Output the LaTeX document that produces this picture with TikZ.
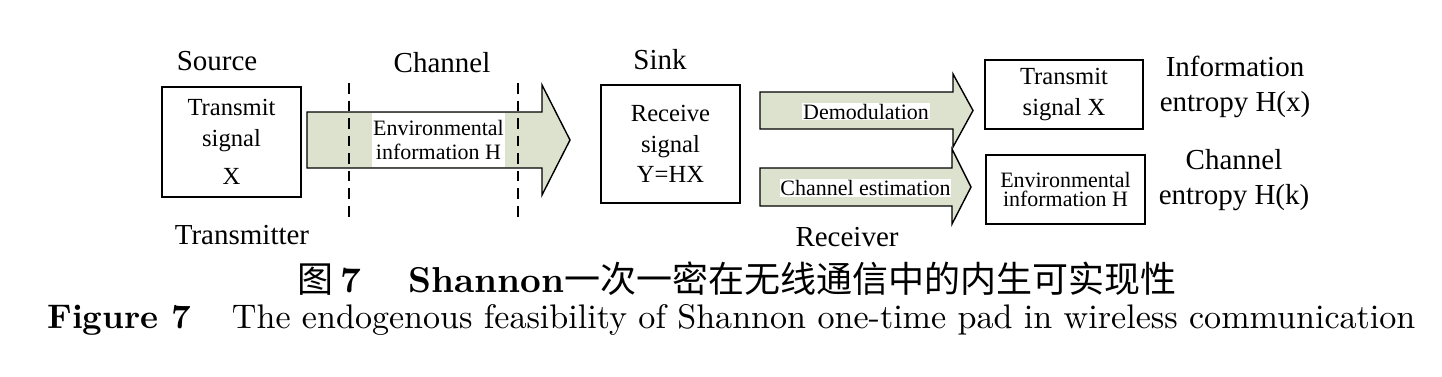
\documentclass[tikz,border=0pt]{standalone}
\usepackage{fontspec}
\newfontfamily\tnr{Liberation Serif}
\newfontfamily\cjk{Noto Sans CJK SC}
\newfontfamily\capfont{lmroman10-regular.otf}[BoldFont=lmroman10-bold.otf]
\definecolor{arrowfill}{RGB}{221,226,207}
\newcommand{\pxl}{0.02cm}
\tikzset{
	box/.style={draw, line width=0.8pt, align=center, inner sep=0pt},
	blockarrow/.style={draw, line width=0.8pt, fill=arrowfill, line join=miter},
	arrowtag/.style={fill=white, inner sep=0.5pt, align=center, font=\tnr\fontsize{12.5}{14}\selectfont},
	heading/.style={align=center, font=\tnr\fontsize{16.5}{20}\selectfont},
	boxtext/.style={font=\tnr\fontsize{14}{17.5}\selectfont},
	divider/.style={line width=0.6pt, dash pattern=on 6pt off 4pt},
}
\begin{document}
\begin{tikzpicture}[x=\pxl, y=-\pxl]
	\useasboundingbox (0,0) rectangle (1442,376);

	\node[box, boxtext, minimum width=139*\pxl, minimum height=110*\pxl] (srcbox) at (231.5,142) {Transmit\\signal\\[4pt]X};
	\node[box, boxtext, minimum width=139*\pxl, minimum height=118*\pxl] (sinkbox) at (670.5,144) {Receive\\signal\\Y=HX};
	\node[box, boxtext, minimum width=158*\pxl, minimum height=69*\pxl] (xbox) at (1064,94.5) {Transmit\\signal X};
	\node[box, font=\tnr\fontsize{12.5}{11}\selectfont, minimum width=159*\pxl, minimum height=69*\pxl] (hbox) at (1065.5,189.5) {Environmental\\information H};

	\draw[blockarrow] (307,112) -- (542,112) -- (542,85) -- (570,140) -- (542,195) -- (542,168) -- (307,168) -- cycle;
	\draw[blockarrow] (760,92) -- (953,92) -- (953,74) -- (973,110.5) -- (953,147) -- (953,129) -- (760,129) -- cycle;
	\draw[blockarrow] (760,168) -- (952,168) -- (952,149) -- (971,187) -- (952,224) -- (952,206) -- (760,206) -- cycle;

	\node[arrowtag, minimum width=131*\pxl, minimum height=54*\pxl] (envtag) at (438.5,140) {Environmental\\information H};
	\node[arrowtag] (demodtag) at (866,111.5) {Demodulation};
	\node[arrowtag] (esttag) at (865.5,188) {Channel estimation};

	\draw[divider] (349,83) -- (349,223);
	\draw[divider] (518,83) -- (518,223);

	\node[heading] (source) at (217,61) {Source};
	\node[heading] (channel) at (442,63) {Channel};
	\node[heading] (transmitter) at (242,235) {Transmitter};
	\node[heading] (sink) at (660,60) {Sink};
	\node[heading] (receiver) at (847,237) {Receiver};
	\node[heading] (infoent) at (1235,86.5) {Information\\entropy H(x)};
	\node[heading] (chanent) at (1234,180) {Channel\\entropy H(k)};

	\node[anchor=base west, inner sep=0pt, font=\capfont\fontsize{20.5}{24}\selectfont] (captioncn) at (297,292) {{\cjk 图}\hspace{0.2em}\textbf{7}\hspace{1.3em}\textbf{Shannon}{\cjk 一次一密在无线通信中的内生可实现性}};
	\node[anchor=base west, inner sep=0pt, font=\capfont\fontsize{19.4}{23}\selectfont] (captionen) at (47,328) {\textbf{Figure 7}\hspace{1.2em}The endogenous feasibility of Shannon one-time pad in wireless communication};
\end{tikzpicture}
\end{document}
